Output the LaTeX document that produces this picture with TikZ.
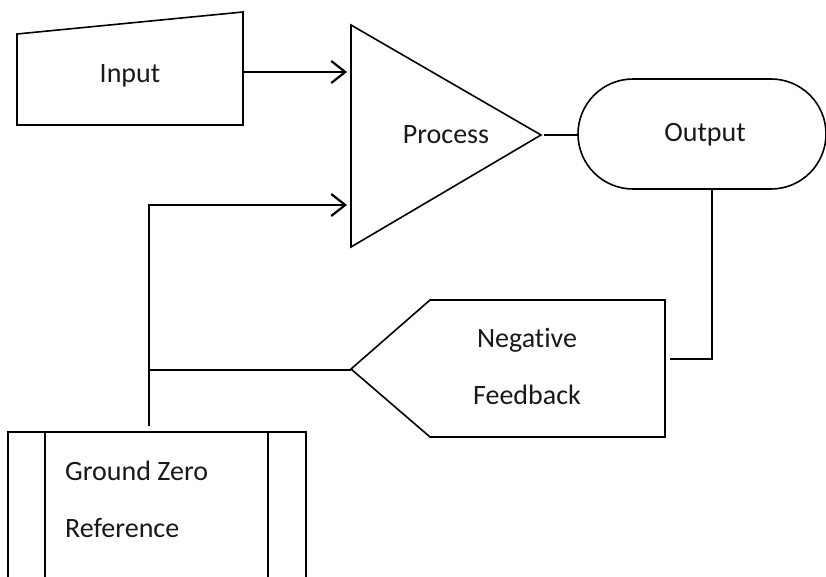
\documentclass[tikz,border=0pt]{standalone}
\usepackage{fontspec}
\setmainfont{Carlito}[Ligatures=NoCommon]
\usetikzlibrary{arrows.meta}
\begin{document}
\begin{tikzpicture}[x=1pt,y=-1pt,
  shapeline/.style={line width=1.6pt, line join=miter},
  conn/.style={line width=2.2pt},
  arr/.style={conn,-{Straight Barb[length=14pt,width=22pt]}},
  lbl/.style={font=\fontsize{28}{32}\selectfont, text=black!90, inner sep=0pt, anchor=base}]
\clip (0,0) rectangle (826,577);
\fill[white] (0,0) rectangle (826,577);
% Input (manual input)
\draw[shapeline] (17,34) -- (243,12) -- (243,125) -- (17,125) -- cycle;
\node[lbl] (input) at (130,83) {Input};
\coordinate (input-e) at (244,72);
% Process (triangle)
\draw[shapeline] (351,25) -- (541,135) -- (351,247) -- cycle;
\node[lbl] (process) at (446,144) {Process};
\coordinate (proc-in1) at (347,72);
\coordinate (proc-in2) at (347,205);
\coordinate (proc-out) at (544,135);
% Output (terminator)
\draw[shapeline] (633,79) -- (771,79) arc (-90:90:55) -- (633,189) arc (90:270:55) -- cycle;
\node[lbl] (output) at (705,142) {Output};
\coordinate (out-w) at (578,135);
\coordinate (out-s) at (712,190);
% Negative Feedback (pointer shape)
\draw[shapeline] (351,369) -- (430,300) -- (665,300) -- (665,437) -- (430,437) -- cycle;
\node[lbl] (neg) at (527,347) {Negative};
\node[lbl] (feed) at (527,404) {Feedback};
\coordinate (fb-e) at (670,359);
\coordinate (fb-w) at (351,370);
% Ground Zero Reference (process box)
\draw[shapeline] (8,432) rectangle (306,600);
\draw[shapeline] (45,432) -- (45,600);
\draw[shapeline] (268,432) -- (268,600);
\node[lbl,anchor=base west] (gz1) at (65,480) {Ground Zero};
\node[lbl,anchor=base west] (gz2) at (65,537) {Reference};
\coordinate (gz-n) at (149,426);
\coordinate (junc) at (149,370);
% Connectors
\draw[arr] (input-e) -- (proc-in1);
\draw[conn] (proc-out) -- (out-w);
\draw[conn] (out-s) |- (fb-e);
\draw[conn] (fb-w) -- (junc);
\draw[arr] (gz-n) |- (proc-in2);
\end{tikzpicture}
\end{document}
